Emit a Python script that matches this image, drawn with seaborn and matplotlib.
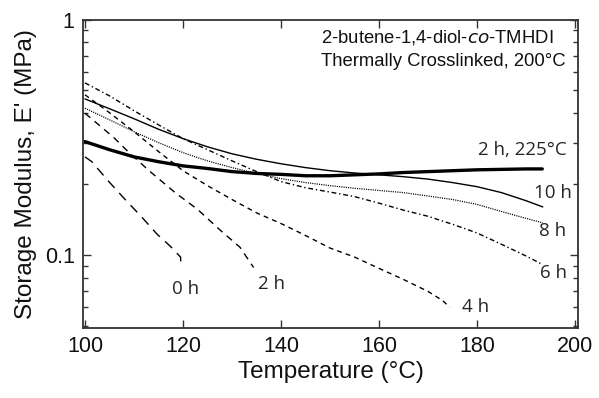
import numpy as np
import pandas as pd
import matplotlib
matplotlib.use("Agg")
import matplotlib.pyplot as plt
import seaborn as sns
from matplotlib.ticker import LogLocator, NullFormatter, FixedLocator, FixedFormatter

sns.set_theme(style="ticks")
plt.rcParams['font.family'] = ['Liberation Sans', 'DejaVu Sans']

# ---- data ----
T_0h = [100, 101.4, 104.5, 108.2, 111.7, 114.8, 117.4, 119.5, 119.6]
E_0h = [0.261, 0.249, 0.209, 0.172, 0.144, 0.122, 0.109, 0.098, 0.089]

T_2h = [100, 105.9, 109, 113.3, 118.4, 123, 127.5, 131.6, 134.4]
E_2h = [0.40, 0.315, 0.272, 0.226, 0.184, 0.156, 0.128, 0.108, 0.0885]

T_4h = [100, 105, 110, 115, 120, 125, 130, 135, 140, 145, 150, 155, 160, 165, 170, 173, 174.4]
E_4h = [0.479, 0.402, 0.334, 0.275, 0.228, 0.197, 0.172, 0.151, 0.136, 0.121, 0.107, 0.098,
        0.0877, 0.0787, 0.070, 0.064, 0.060]

T_6h = [100, 105, 110, 115, 120, 125, 130, 135, 140, 145, 150, 155, 160, 165, 170, 175,
        180, 185, 190, 193.4]
E_6h = [0.538, 0.474, 0.41, 0.357, 0.312, 0.28, 0.251, 0.226, 0.205, 0.193, 0.185, 0.177,
        0.166, 0.155, 0.146, 0.135, 0.124, 0.111, 0.099, 0.091]

T_8h = [100, 105, 110, 115, 120, 125, 130, 135, 140, 145, 150, 155, 160, 165, 170, 175,
        180, 185, 190, 193.4]
E_8h = [0.42, 0.375, 0.334, 0.30, 0.272, 0.251, 0.235, 0.222, 0.211, 0.203, 0.197, 0.192,
        0.188, 0.184, 0.178, 0.172, 0.164, 0.153, 0.143, 0.137]

T_10h = [100, 105, 110, 115, 120, 125, 130, 135, 140, 145, 150, 155, 160, 165, 170, 175,
         180, 185, 190, 193.4]
E_10h = [0.46, 0.418, 0.379, 0.342, 0.312, 0.288, 0.269, 0.255, 0.244, 0.235, 0.228, 0.223,
         0.219, 0.215, 0.210, 0.203, 0.195, 0.184, 0.17, 0.16]

T_2h225 = [100, 105, 110, 115, 120, 125, 130, 135, 140, 145, 150, 155, 160, 165, 170, 175,
           180, 185, 190, 193.3]
E_2h225 = [0.303, 0.28, 0.261, 0.249, 0.239, 0.233, 0.226, 0.222, 0.22, 0.217, 0.217, 0.219,
           0.221, 0.224, 0.226, 0.228, 0.23, 0.231, 0.232, 0.232]

labels = ["0 h", "2 h", "4 h", "6 h", "8 h", "10 h", "2 h, 225°C"]
label_T = [120.5, 138.1, 179.7, 195.5, 195.5, 195.5, 189.3]
label_E = [0.0715, 0.0755, 0.060, 0.084, 0.126, 0.184, 0.28]

x_ticks = [100, 120, 140, 160, 180, 200]

series = [
    (T_0h, E_0h, dict(lw=1.0, dashes=(7, 5))),
    (T_2h, E_2h, dict(lw=1.0, dashes=(5, 4))),
    (T_4h, E_4h, dict(lw=1.0, dashes=(3.5, 3))),
    (T_6h, E_6h, dict(lw=1.0, dashes=(3.5, 2, 1, 2))),
    (T_8h, E_8h, dict(lw=0.9, dashes=(0.9, 0.9))),
    (T_10h, E_10h, dict(lw=1.0)),
    (T_2h225, E_2h225, dict(lw=2.4)),
]

fig = plt.figure(figsize=(5.99, 3.98), dpi=100)
ax = fig.add_axes([0.1386, 0.176, 0.8264, 0.775])

for T, E, style in series:
    df = pd.DataFrame({"T": T, "E": E})
    line_kw = dict(style)
    dashes = line_kw.pop("dashes", None)
    sns.lineplot(data=df, x="T", y="E", ax=ax, color="black", estimator=None,
                 sort=False, **line_kw)
    if dashes is not None:
        ax.lines[-1].set_dashes(dashes)

ax.set_yscale("log")
ax.set_xlim(99.6, 200.6)
ax.set_ylim(0.049, 1.0)
ax.xaxis.set_major_locator(FixedLocator(x_ticks))
ax.yaxis.set_major_locator(FixedLocator([0.1, 1]))
ax.yaxis.set_major_formatter(FixedFormatter(["0.1", "1"]))
ax.yaxis.set_minor_locator(LogLocator(base=10, subs=np.arange(2, 10)))
ax.yaxis.set_minor_formatter(NullFormatter())

ax.tick_params(which="both", direction="in", top=True, right=True, color="#333333",
               width=1.0)
ax.tick_params(which="major", length=6, labelsize=15.5, pad=6, labelcolor="#111111")
ax.tick_params(which="minor", length=3.5)
for s in ax.spines.values():
    s.set_color("#333333")
    s.set_linewidth(1.3)

ax.set_xlabel("Temperature (°C)", fontsize=17.5, labelpad=3, color="#111111")
ax.set_ylabel("Storage Modulus, E' (MPa)", fontsize=17.5, color="#111111")
ax.yaxis.set_label_coords(-0.093, 0.5)

lab_font = ['Open Sans', 'DejaVu Sans']
for txt, tx, ty in zip(labels, label_T, label_E):
    ax.text(tx, ty, txt, fontsize=13.5, family=lab_font, ha="center", va="center")

ax.text(148.2, 0.84, "2-butene-1,4-diol-$\\it{co}$-TMHDI", fontsize=13.3,
        ha="left", va="center", color="#111111")
ax.text(148.2, 0.665, "Thermally Crosslinked, 200°C", fontsize=13.3,
        ha="left", va="center", color="#111111")

fig.savefig("out.png", dpi=100)
